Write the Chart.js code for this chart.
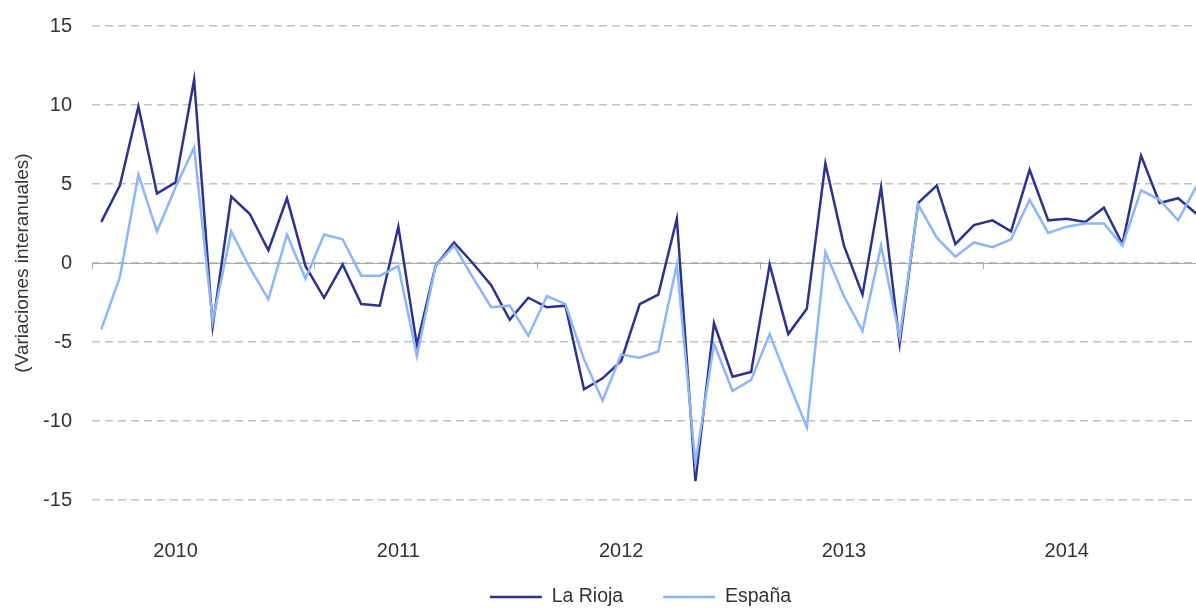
<!DOCTYPE html>
<html>
<head>
<meta charset="utf-8">
<script src="https://cdn.jsdelivr.net/npm/chart.js@4.4.1/dist/chart.umd.min.js"></script>
<style>
  html, body { margin: 0; padding: 0; background: #fff; overflow: hidden; }
  #wrap { width: 1206px; height: 608px; }
</style>
</head>
<body>
<div id="wrap"><canvas id="chart" width="1206" height="608"></canvas></div>
<script>
// Variaciones interanuales mensuales, ene 2010 - dic 2014
const years = ['2010', '2011', '2012', '2013', '2014'];
const months = ['ene', 'feb', 'mar', 'abr', 'may', 'jun', 'jul', 'ago', 'sep', 'oct', 'nov', 'dic'];

const laRioja = [
  2.6, 4.9, 9.9, 4.4, 5.1, 11.6, -4.0, 4.2, 3.1, 0.8, 4.1, -0.2,
  -2.2, -0.1, -2.6, -2.7, 2.3, -5.2, -0.2, 1.3, 0.0, -1.4, -3.6, -2.2,
  -2.8, -2.7, -8.0, -7.3, -6.2, -2.6, -2.0, 2.8, -13.8, -3.8, -7.2, -6.9,
  -0.1, -4.5, -2.9, 6.3, 1.1, -2.0, 4.8, -5.1, 3.8, 4.9, 1.2, 2.4,
  2.7, 2.0, 5.9, 2.7, 2.8, 2.6, 3.5, 1.2, 6.8, 3.8, 4.1, 3.1
];
const espana = [
  -4.2, -0.9, 5.6, 2.0, 4.8, 7.3, -3.7, 2.0, -0.3, -2.3, 1.8, -1.0,
  1.8, 1.5, -0.8, -0.8, -0.2, -5.9, -0.2, 1.1, -0.9, -2.8, -2.7, -4.6,
  -2.1, -2.6, -6.1, -8.7, -5.8, -6.0, -5.6, -0.1, -12.7, -5.1, -8.1, -7.4,
  -4.5, -7.5, -10.4, 0.7, -2.1, -4.3, 1.1, -4.7, 3.7, 1.6, 0.4, 1.3,
  1.0, 1.5, 4.0, 1.9, 2.3, 2.5, 2.5, 1.1, 4.6, 4.0, 2.7, 4.9
];
const yTicks = [-15, -10, -5, 0, 5, 10, 15];

const categories = years.flatMap(y => months.map(m => m + ' ' + y));

Chart.defaults.font.family = '"Liberation Sans", Arial, sans-serif';
Chart.defaults.color = '#333';

// la leyenda tiene mucho hueco entre elementos; la recolocamos tras el layout,
// y el eje x se alarga hasta abajo para que no recorte las etiquetas de año
const legendShift = {
  id: 'legendShift',
  afterLayout(chart) {
    const lg = chart.legend;
    if (lg) {
      lg.top += 8.75;
      lg.bottom += 8.75;
      lg.left -= 8.5;
      lg.right -= 8.5;
    }
    chart.scales.x.bottom = chart.height;
  }
};

new Chart(document.getElementById('chart'), {
  type: 'line',
  data: {
    labels: categories,
    datasets: [
      {
        label: 'La Rioja', data: laRioja, order: 1,
        borderColor: '#2e318f', backgroundColor: '#2e318f',
        borderWidth: 2.5, pointRadius: 0, tension: 0
      },
      {
        label: 'España', data: espana, order: 0,
        borderColor: '#8cb6f9', backgroundColor: '#8cb6f9',
        borderWidth: 2.5, pointRadius: 0, tension: 0
      }
    ]
  },
  plugins: [legendShift],
  options: {
    responsive: false,
    animation: false,
    layout: { padding: { top: 26, right: 0, left: 0, bottom: 0 } },
    plugins: {
      tooltip: { enabled: false },
      legend: {
        position: 'bottom',
        fullSize: false,
        labels: {
          usePointStyle: true, pointStyle: 'line', pointStyleWidth: 52, boxWidth: 52,
          padding: 40, color: '#333', font: { size: 19.5 },
          sort: (a, b) => a.datasetIndex - b.datasetIndex
        }
      }
    },
    scales: {
      x: {
        type: 'category', position: 'bottom', offset: true,
        grid: { display: false, drawTicks: true, tickLength: 39 }, border: { display: false },
        ticks: {
          autoSkip: false, maxRotation: 0, padding: 0, font: { size: 20 }, color: '#333',
          callback: (v, i) => i % 12 === 4 ? years[Math.floor(i / 12)] : ''
        },
        afterFit: s => { s.height = 38.5; }
      },
      xZero: {
        type: 'category', position: { y: 0 }, offset: true,
        grid: {
          offset: true, drawOnChartArea: false, drawTicks: true, tickLength: 5,
          color: ctx => ctx.index % 12 === 0 ? '#aaa' : 'rgba(0,0,0,0)'
        },
        border: { display: true, color: '#aaa', width: 1 },
        ticks: { display: false },
        afterFit: s => { s.height = 0; }
      },
      y: {
        min: yTicks[0], max: yTicks[yTicks.length - 1],
        ticks: { stepSize: 5, padding: 0, font: { size: 20 }, color: '#333' },
        grid: { color: '#c2c2c2', lineWidth: 1.5, drawTicks: true, tickLength: 20, tickColor: 'rgba(0,0,0,0)' },
        border: { display: false, dash: [8, 5] },
        title: {
          display: true, text: '(Variaciones interanuales)',
          font: { size: 19 }, color: '#333', padding: { top: 11, bottom: 0 }
        },
        afterFit: s => { s.width = 92; }
      }
    }
  }
});
</script>
</body>
</html>
